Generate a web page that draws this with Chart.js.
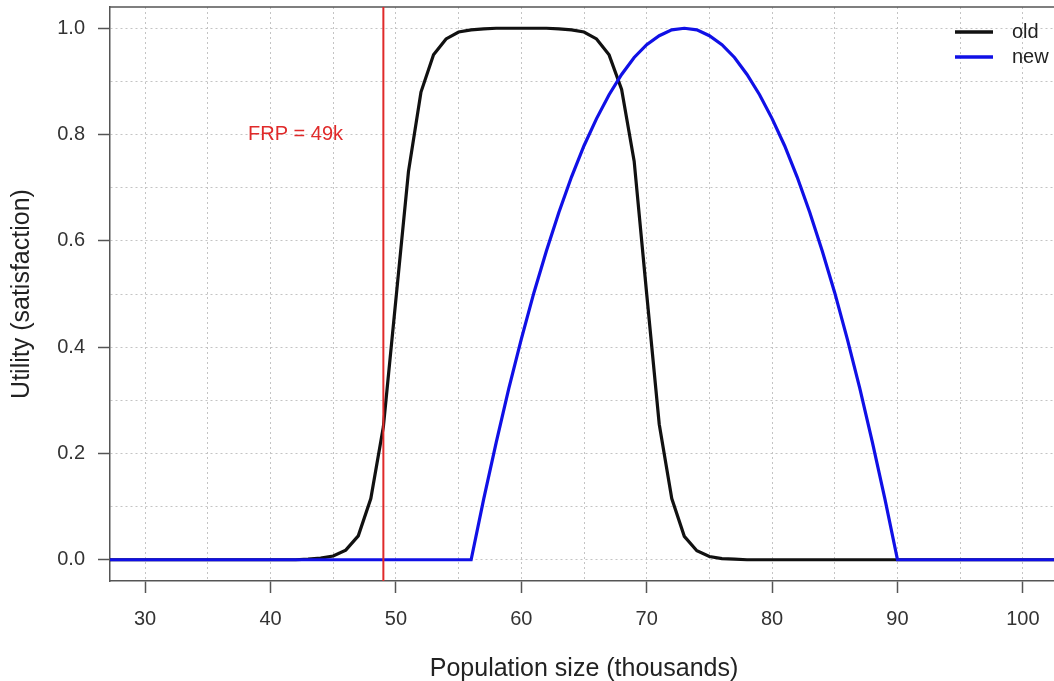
<!DOCTYPE html>
<html>
<head>
<meta charset="utf-8">
<script src="https://cdn.jsdelivr.net/npm/chart.js@4/dist/chart.umd.min.js"></script>
<style>
  html, body { margin: 0; padding: 0; background: #fff; overflow: hidden; }
  #wrap { width: 1062px; height: 684px; }
</style>
</head>
<body>
<div id="wrap"><canvas id="utilChart" width="1062" height="684"></canvas></div>
<script>
// population size (thousands)
const popSize = [27, 28, 29, 30, 31, 32, 33, 34, 35, 36, 37, 38, 39, 40, 41, 42, 43, 44, 45, 46,
  47, 48, 49, 50, 51, 52, 53, 54, 55, 56, 57, 58, 59, 60, 61, 62, 63, 64, 65, 66,
  67, 68, 69, 70, 71, 72, 73, 74, 75, 76, 77, 78, 79, 80, 81, 82, 83, 84, 85, 86,
  87, 88, 89, 90, 91, 92, 93, 94, 95, 96, 97, 98, 99, 100, 101, 102, 103];

// old utility curve
const oldUtility = [0, 0, 0, 0, 0, 0, 0, 0, 0, 0, 0, 0, 0, 0, 0, 0,
  0.001, 0.003, 0.007, 0.018, 0.045, 0.115, 0.25, 0.49, 0.73, 0.88, 0.95, 0.98, 0.993, 0.997,
  0.999, 1, 1, 1, 1, 1, 0.999, 0.997, 0.993, 0.98, 0.95, 0.885, 0.75, 0.5, 0.255, 0.115,
  0.044, 0.017, 0.006, 0.002, 0.001,
  0, 0, 0, 0, 0, 0, 0, 0, 0, 0, 0, 0, 0, 0, 0, 0, 0, 0, 0, 0, 0, 0, 0, 0, 0, 0];

// new utility curve
const newUtility = [0, 0, 0, 0, 0, 0, 0, 0, 0, 0, 0, 0, 0, 0, 0, 0, 0, 0, 0, 0, 0, 0, 0, 0, 0, 0, 0, 0, 0, 0,
  0.114, 0.221, 0.322, 0.415, 0.502, 0.581, 0.654, 0.720, 0.779, 0.830, 0.875, 0.913, 0.945, 0.969, 0.986, 0.997,
  1.0,
  0.997, 0.986, 0.969, 0.945, 0.913, 0.875, 0.830, 0.779, 0.720, 0.654, 0.581, 0.502, 0.415, 0.322, 0.221, 0.114,
  0, 0, 0, 0, 0, 0, 0, 0, 0, 0, 0, 0, 0, 0];

const xGrid = [30, 35, 40, 45, 50, 55, 60, 65, 70, 75, 80, 85, 90, 95, 100];
const xLabels = [30, 40, 50, 60, 70, 80, 90, 100];
const yGrid = [0, 0.1, 0.2, 0.3, 0.4, 0.5, 0.6, 0.7, 0.8, 0.9, 1.0];
const yLabels = [0, 0.2, 0.4, 0.6, 0.8, 1.0];

const frpValue = 49;
const frpText = "FRP = 49k";
const frpTextAt = [42, 0.8];

const seriesNames = ["old", "new"];
const seriesColors = ["#111111", "#1010e6"];

const FONT = "'Liberation Sans', Arial, Helvetica, sans-serif";

function isIn(list, v) {
  return list.some(t => Math.abs(t - v) < 1e-6);
}

// red reference line, its label, the top frame line and the legend
const extras = {
  id: "extras",
  afterDatasetsDraw(chart) {
    const ctx = chart.ctx;
    const area = chart.chartArea;
    const xs = chart.scales.x;
    const ys = chart.scales.y;

    ctx.save();
    // top frame
    ctx.strokeStyle = "#555";
    ctx.lineWidth = 1.5;
    ctx.beginPath();
    ctx.moveTo(area.left, area.top);
    ctx.lineTo(area.right, area.top);
    ctx.stroke();

    // FRP line
    const fx = xs.getPixelForValue(frpValue);
    ctx.strokeStyle = "#e02a2a";
    ctx.lineWidth = 2;
    ctx.beginPath();
    ctx.moveTo(fx, area.top);
    ctx.lineTo(fx, area.bottom);
    ctx.stroke();

    ctx.fillStyle = "#e02a2a";
    ctx.font = "20px " + FONT;
    ctx.textAlign = "center";
    ctx.textBaseline = "middle";
    ctx.fillText(frpText, xs.getPixelForValue(frpTextAt[0]), ys.getPixelForValue(frpTextAt[1]));

    // legend
    ctx.textAlign = "left";
    ctx.lineWidth = 3.5;
    seriesNames.forEach((name, i) => {
      const y = 32 + i * 25;
      ctx.strokeStyle = seriesColors[i];
      ctx.beginPath();
      ctx.moveTo(955, y);
      ctx.lineTo(993, y);
      ctx.stroke();
      ctx.fillStyle = "#222";
      ctx.fillText(name, 1012, y);
    });
    ctx.restore();
  }
};

const ctx = document.getElementById("utilChart");

new Chart(ctx, {
  type: "line",
  data: {
    datasets: [
      {
        label: seriesNames[0],
        data: popSize.map((x, i) => ({ x: x, y: oldUtility[i] })),
        borderColor: seriesColors[0],
        borderWidth: 3.2,
        pointRadius: 0,
        tension: 0,
        order: 2
      },
      {
        label: seriesNames[1],
        data: popSize.map((x, i) => ({ x: x, y: newUtility[i] })),
        borderColor: seriesColors[1],
        borderWidth: 3.2,
        pointRadius: 0,
        tension: 0,
        order: 1
      }
    ]
  },
  plugins: [extras],
  options: {
    responsive: false,
    animation: false,
    devicePixelRatio: 1,
    layout: { padding: { top: 7, right: 4, left: 0, bottom: 0 } },
    plugins: {
      legend: { display: false },
      tooltip: { enabled: false }
    },
    scales: {
      x: {
        type: "linear",
        min: 27.2,
        max: 102.8,
        afterBuildTicks: (scale) => { scale.ticks = xGrid.map(v => ({ value: v })); },
        afterFit: (scale) => {
          scale.height = 103;
          scale.paddingLeft = 0;
          scale.paddingRight = 0;
        },
        ticks: {
          autoSkip: false,
          maxRotation: 0,
          padding: 14,
          color: "#333",
          font: { family: FONT, size: 20 },
          callback: (v) => isIn(xLabels, v) ? String(v) : ""
        },
        grid: {
          color: "#c4c4c4",
          lineWidth: 1,
          tickLength: 12,
          tickWidth: 1.5,
          tickColor: (c) => (c.tick && isIn(xLabels, c.tick.value)) ? "#555" : "rgba(0,0,0,0)"
        },
        border: { color: "#555", width: 1.5, dash: [2, 3] },
        title: {
          display: true,
          text: "Population size (thousands)",
          color: "#222",
          font: { family: FONT, size: 25 },
          padding: { top: 0, bottom: 0 }
        }
      },
      y: {
        type: "linear",
        min: -0.04,
        max: 1.04,
        afterBuildTicks: (scale) => { scale.ticks = yGrid.map(v => ({ value: v })); },
        afterFit: (scale) => {
          scale.width = 110;
          scale.paddingTop = 0;
          scale.paddingBottom = 0;
        },
        ticks: {
          autoSkip: false,
          padding: 13,
          color: "#333",
          font: { family: FONT, size: 20 },
          callback: (v) => isIn(yLabels, v) ? v.toFixed(1) : ""
        },
        grid: {
          color: "#c4c4c4",
          lineWidth: 1,
          tickLength: 12,
          tickWidth: 1.5,
          tickColor: (c) => (c.tick && isIn(yLabels, c.tick.value)) ? "#555" : "rgba(0,0,0,0)"
        },
        border: { color: "#555", width: 1.5, dash: [2, 3] },
        title: {
          display: true,
          text: "Utility (satisfaction)",
          color: "#222",
          font: { family: FONT, size: 25 },
          padding: { top: 7, bottom: 0 }
        }
      }
    }
  }
});
</script>
</body>
</html>
